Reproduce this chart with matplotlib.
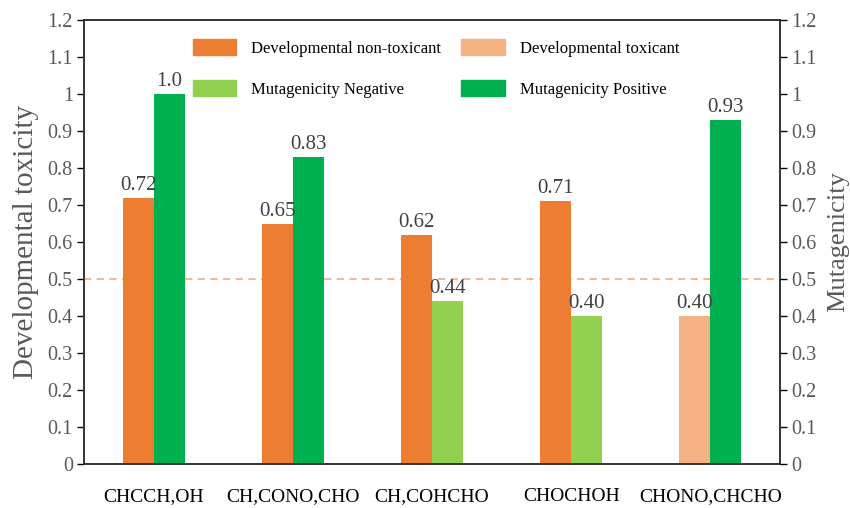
import matplotlib
matplotlib.use("Agg")
import matplotlib.pyplot as plt
from matplotlib.patches import Patch
import numpy as np

plt.rcParams['font.family'] = ['Liberation Serif', 'DejaVu Serif']

categories = ["CHCCH,OH", "CH,CONO,CHO", "CH,COHCHO", "CHOCHOH", "CHONO,CHCHO"]
dev_values = [0.72, 0.65, 0.62, 0.71, 0.40]
dev_toxic = [False, False, False, False, True]
mut_values = [1.0, 0.83, 0.44, 0.40, 0.93]
mut_positive = [True, True, False, False, True]
dev_labels = ["0.72", "0.65", "0.62", "0.71", "0.40"]
mut_labels = ["1.0", "0.83", "0.44", "0.40", "0.93"]

C_NONTOX = "#ED7D31"
C_TOX = "#F4B183"
C_NEG = "#92D050"
C_POS = "#00B050"
TICK_GRAY = "#595959"

fig = plt.figure(figsize=(8.5, 5.08), dpi=100)
ax = fig.add_axes([0.0988, 0.0866, 0.8188, 0.874])
x = np.arange(len(categories))
w = 0.223

dev_colors = [C_TOX if t else C_NONTOX for t in dev_toxic]
mut_colors = [C_POS if p else C_NEG for p in mut_positive]
ax.bar(x - w / 2, dev_values, w, color=dev_colors, zorder=2)
ax.bar(x + w / 2, mut_values, w, color=mut_colors, zorder=2)

for xi, v, lab in zip(x - w / 2, dev_values, dev_labels):
    ax.text(xi, v + 0.008, lab, ha="center", va="bottom", fontsize=15, color="#404040")
for xi, v, lab in zip(x + w / 2, mut_values, mut_labels):
    ax.text(xi, v + 0.008, lab, ha="center", va="bottom", fontsize=15, color="#404040")

ax.axhline(0.5, color="#F4B183", linestyle=(0, (4, 3)), linewidth=1.3, zorder=1)

ax.set_xlim(-0.5, 4.5)
ax.set_ylim(0, 1.2)
yt = np.round(np.arange(0, 1.21, 0.1), 1)
ylabs = ["0" if v == 0 else ("1" if v == 1 else f"{v:.1f}") for v in yt]
ax.set_yticks(yt)
ax.set_yticklabels(ylabs, fontsize=14.5, color=TICK_GRAY)
ax.set_xticks(x)
ax.set_xticklabels(categories, fontsize=14, color="black")
ax.tick_params(axis="x", length=0, pad=17)
ax.tick_params(axis="y", direction="out", length=5, width=1, pad=3)
for s in ax.spines.values():
    s.set_color("#333333")
    s.set_linewidth(1.2)
ax.set_ylabel("Developmental toxicity", fontsize=21, color=TICK_GRAY, labelpad=6)

ax2 = ax.twinx()
ax2.set_ylim(0, 1.2)
ax2.set_yticks(yt)
ax2.set_yticklabels(ylabs, fontsize=14.5, color=TICK_GRAY)
ax2.tick_params(axis="y", direction="out", length=5, width=1, pad=3)
for s in ax2.spines.values():
    s.set_color("#333333")
    s.set_linewidth(1.2)
ax2.set_ylabel("Mutagenicity", fontsize=19, color=TICK_GRAY, labelpad=8)

handles = [Patch(color=C_NONTOX), Patch(color=C_NEG), Patch(color=C_TOX), Patch(color=C_POS)]
labels = ["Developmental non-toxicant", "Mutagenicity Negative", "Developmental toxicant", "Mutagenicity Positive"]
leg = ax.legend(handles, labels, ncol=2, loc="upper left", bbox_to_anchor=(0.135, 0.99),
                frameon=False, fontsize=12, handlelength=2.6, handleheight=1.1,
                labelspacing=1.4, columnspacing=1.2, handletextpad=0.9)

fig.savefig("out.png", dpi=100)
